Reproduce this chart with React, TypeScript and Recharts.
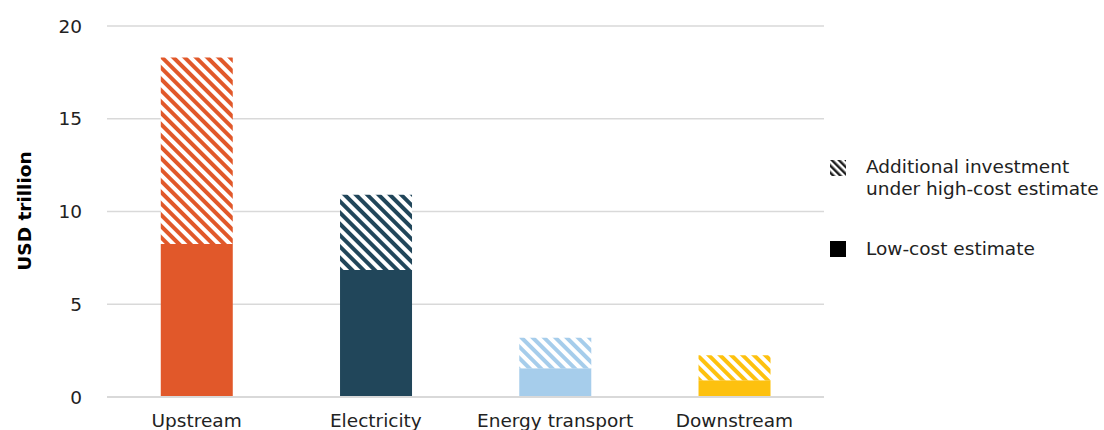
import { Bar, BarChart, CartesianGrid, Cell, XAxis, YAxis } from 'recharts'

// (USD trillion)
const sectors = ['Upstream', 'Electricity', 'Energy transport', 'Downstream']
const lowCost = [8.25, 6.85, 1.55, 0.9]
const highCost = [18.3, 10.9, 3.2, 2.25]
const yTicks = [0, 5, 10, 15, 20]

const colors = ['#e1582a', '#21465a', '#a6cdeb', '#fdc10f']
const font = '"DejaVu Sans", Verdana, sans-serif'
const fs = 18.5

const rows = sectors.map((name, i) => ({
  name,
  low: lowCost[i],
  extra: +(highCost[i] - lowCost[i]).toFixed(2),
}))

function Hatch({ id, color, size = 8 }: { id: string; color: string; size?: number }) {
  return (
    <pattern id={id} width={size} height={size} patternUnits="userSpaceOnUse" patternTransform="rotate(-45)">
      <rect width={size} height={size} fill="#ffffff" />
      <rect width={size / 2} height={size} fill={color} />
    </pattern>
  )
}

export default function App() {
  return (
    <div style={{ position: 'absolute', left: 0, top: 0, width: 1104, height: 430, fontFamily: font }}>
      <BarChart
        width={1104}
        height={430}
        data={rows}
        margin={{ top: 26, right: 280, bottom: 0, left: 0 }}
        barCategoryGap="30%"
      >
        <defs>
          {colors.map((c, i) => (
            <Hatch key={i} id={`hatch-${i}`} color={c} />
          ))}
        </defs>
        <CartesianGrid vertical={false} stroke="#d9d9d9" strokeWidth={1.5} />
        <XAxis
          dataKey="name"
          height={33}
          axisLine={{ stroke: '#d9d9d9', strokeWidth: 2 }}
          tickLine={false}
          tickSize={0}
          tickMargin={17}
          interval={0}
          tick={{ fill: '#222', fontSize: fs, fontFamily: font }}
        />
        <YAxis
          width={107}
          domain={[0, 20]}
          ticks={yTicks}
          axisLine={false}
          tickLine={false}
          tickSize={0}
          tickMargin={25}
          tick={{ fill: '#222', fontSize: fs, fontFamily: font }}
          label={{
            content: () => (
              <text
                x={24}
                y={211}
                transform="rotate(-90 24 211)"
                textAnchor="middle"
                dominantBaseline="central"
                fontWeight="bold"
                fontSize={18.5}
                fontFamily={font}
                fill="#000"
              >
                USD trillion
              </text>
            ),
          }}
        />
        <Bar dataKey="low" stackId="a" isAnimationActive={false}>
          {rows.map((_, i) => (
            <Cell key={i} fill={colors[i]} />
          ))}
        </Bar>
        <Bar dataKey="extra" stackId="a" isAnimationActive={false}>
          {rows.map((_, i) => (
            <Cell key={i} fill={`url(#hatch-${i})`} />
          ))}
        </Bar>
      </BarChart>
      <div style={{ position: 'absolute', left: 830, top: 156, fontSize: fs, color: '#222', lineHeight: '22px' }}>
        <div style={{ display: 'flex', alignItems: 'flex-start' }}>
          <svg width={16} height={16} style={{ marginTop: 4, marginRight: 20, flex: 'none' }}>
            <defs>
              <Hatch id="hatch-legend" color="#222222" size={5} />
            </defs>
            <rect width={16} height={16} fill="url(#hatch-legend)" />
          </svg>
          <div>
            Additional investment
            <br />
            under high-cost estimate
          </div>
        </div>
        <div style={{ display: 'flex', alignItems: 'center', marginTop: 38 }}>
          <div style={{ width: 16, height: 16, background: '#000', marginRight: 20 }} />
          <div>Low-cost estimate</div>
        </div>
      </div>
    </div>
  )
}
